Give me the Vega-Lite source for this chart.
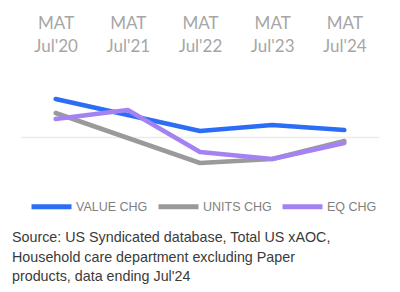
{
  "$schema": "https://vega.github.io/schema/vega-lite/v6.json",
  "width": 358,
  "height": 113,
  "autosize": {"type": "none"},
  "padding": {"left": 21, "top": 62, "right": 21, "bottom": 117},
  "background": "white",
  "config": {"view": {"stroke": null}},
  "title": {
    "text": ["Source: US Syndicated database, Total US xAOC,", "Household care department excluding Paper", "products, data ending Jul'24"],
    "orient": "bottom",
    "anchor": "start",
    "frame": "group",
    "dx": -9,
    "offset": 14,
    "font": "Liberation Sans",
    "fontSize": 14.3,
    "fontWeight": "normal",
    "color": "#3a3a3a",
    "lineHeight": 19.5
  },
  "data": {
    "values": [
      {"period": "MAT|Jul'20", "series": "VALUE CHG", "value": 3.8},
      {"period": "MAT|Jul'21", "series": "VALUE CHG", "value": 2.2},
      {"period": "MAT|Jul'22", "series": "VALUE CHG", "value": 0.6},
      {"period": "MAT|Jul'23", "series": "VALUE CHG", "value": 1.2},
      {"period": "MAT|Jul'24", "series": "VALUE CHG", "value": 0.7},
      {"period": "MAT|Jul'20", "series": "UNITS CHG", "value": 2.4},
      {"period": "MAT|Jul'21", "series": "UNITS CHG", "value": -0.1},
      {"period": "MAT|Jul'22", "series": "UNITS CHG", "value": -2.6},
      {"period": "MAT|Jul'23", "series": "UNITS CHG", "value": -2.2},
      {"period": "MAT|Jul'24", "series": "UNITS CHG", "value": -0.4},
      {"period": "MAT|Jul'20", "series": "EQ CHG", "value": 1.8},
      {"period": "MAT|Jul'21", "series": "EQ CHG", "value": 2.7},
      {"period": "MAT|Jul'22", "series": "EQ CHG", "value": -1.5},
      {"period": "MAT|Jul'23", "series": "EQ CHG", "value": -2.2},
      {"period": "MAT|Jul'24", "series": "EQ CHG", "value": -0.6}
    ]
  },
  "mark": {"type": "line", "strokeWidth": 4.5, "strokeCap": "round", "strokeJoin": "round"},
  "encoding": {
    "x": {
      "field": "period",
      "type": "ordinal",
      "sort": null,
      "scale": {"type": "point", "padding": 0.48},
      "axis": {
        "orient": "top",
        "title": null,
        "domain": false,
        "ticks": false,
        "grid": false,
        "labelAngle": 0,
        "labelExpr": "split(datum.label, '|')",
        "labelFont": "Lato",
        "labelFontSize": 17,
        "labelColor": "#a6a6a6",
        "labelLineHeight": 23,
        "labelPadding": 30
      }
    },
    "y": {
      "field": "value",
      "type": "quantitative",
      "scale": {"domain": [-3.8, 7.5], "nice": false, "zero": false},
      "axis": {
        "title": null,
        "values": [0],
        "grid": true,
        "gridColor": "#ececec",
        "gridWidth": 1.5,
        "labels": false,
        "ticks": false,
        "domain": false
      }
    },
    "color": {
      "field": "series",
      "type": "nominal",
      "scale": {"domain": ["VALUE CHG", "UNITS CHG", "EQ CHG"], "range": ["#2b6ef5", "#9a9a9a", "#a582f2"]},
      "legend": {
        "title": null,
        "orient": "none",
        "direction": "horizontal",
        "legendX": 8,
        "legendY": 122,
        "symbolType": "stroke",
        "symbolSize": 1600,
        "symbolStrokeWidth": 5,
        "labelFont": "Liberation Sans",
        "labelFontSize": 12.5,
        "labelColor": "#7f7f7f",
        "labelOffset": 2,
        "columnPadding": 0
      }
    }
  }
}
